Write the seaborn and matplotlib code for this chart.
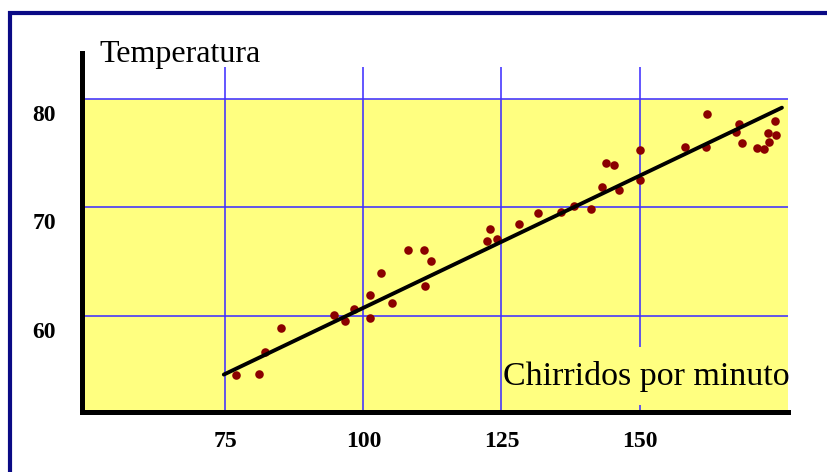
import matplotlib
matplotlib.use("Agg")
import matplotlib.pyplot as plt
import matplotlib.transforms as mtrans
from matplotlib.lines import Line2D
from matplotlib.patches import Rectangle
import seaborn as sns
import pandas as pd

# ---- data ----
chirps = [76.9, 81.1, 82.1, 85.1, 94.7, 96.6, 98.2, 101.2, 101.2, 103.1,
          105.1, 108.0, 111.0, 112.2, 111.2, 122.3, 122.9, 124.1, 128.1, 131.7,
          135.8, 138.2, 141.2, 143.2, 143.9, 145.4, 146.2, 150.1, 150.1, 158.3,
          162.3, 162.1, 167.4, 168.0, 168.5, 171.3, 172.6, 173.5, 173.3, 174.8,
          174.6]
temps = [54.6, 54.65, 56.7, 58.9, 60.1, 59.5, 60.6, 61.9, 59.8, 64.0,
         61.2, 66.1, 66.1, 65.1, 62.8, 66.9, 68.0, 67.1, 68.5, 69.45,
         69.6, 70.1, 69.9, 71.9, 74.1, 73.9, 71.6, 72.5, 75.3, 75.6,
         78.6, 75.6, 77.0, 77.7, 75.9, 75.5, 75.4, 76.0, 76.9, 76.7,
         78.0]
fit_x = [74.7, 175.8]
fit_y = [54.6, 79.2]
x_ticks = [75, 100, 125, 150]
x_tick_labels = ["75", "100", "125", "150"]
y_ticks = [60, 70, 80]
y_tick_labels = ["60", "70", "80"]
x_title = "Chirridos por minuto"
y_title = "Temperatura"

pts = pd.DataFrame({"x": chirps, "y": temps})
fit = pd.DataFrame({"x": fit_x, "y": fit_y})

# ---- style ----
sns.set_style("white")
plt.rcParams["font.family"] = ["Liberation Serif", "DejaVu Serif"]

W, H = 828, 472
fig = plt.figure(figsize=(W / 100, H / 100), dpi=100)
fig.patch.set_facecolor("white")

# axes box in pixels
ax_l, ax_r, ax_t, ax_b = 82.5, 788, 53, 412
ax = fig.add_axes([ax_l / W, 1 - ax_b / H, (ax_r - ax_l) / W, (ax_b - ax_t) / H])
ax.set_facecolor("white")

xmin, xmax = 49.1, 176.9
ymin, ymax = 51.15, 84.24
ax.set_xlim(xmin, xmax)
ax.set_ylim(ymin, ymax)

YELLOW = "#FFFF80"
GRID = "#4030FF"

# yellow plotting area up to the top gridline
ax.axhspan(ymin, max(y_ticks), color=YELLOW, zorder=0, lw=0)
# grid lines
ax.hlines(y_ticks, xmin, xmax, colors=GRID, lw=1.15, zorder=1)
ax.vlines(x_ticks, ymin, 82.95, colors=GRID, lw=1.15, zorder=1)

# yellow patch behind the axis title (covers part of the grid)
ax.add_patch(Rectangle((0.598, 0.02), 0.402, 0.161, transform=ax.transAxes,
                       facecolor=YELLOW, edgecolor="none", zorder=1.5))

# data
sns.scatterplot(data=pts, x="x", y="y", ax=ax, color="#8B0000", s=38,
                edgecolor="#8B0000", linewidth=0, zorder=3, legend=False)
sns.lineplot(data=fit, x="x", y="y", ax=ax, color="black", lw=2.8, zorder=4)

# axis titles
ax.text(125.2, 53.64, x_title, fontsize=24.5, ha="left", va="baseline",
        color="black", zorder=5)
fig.text(99 / W, 1 - 62 / H, y_title, fontsize=23, ha="left", va="baseline",
         color="black")
ax.set_xlabel("")
ax.set_ylabel("")

# ticks
ax.set_xticks(x_ticks)
ax.set_xticklabels(x_tick_labels, fontsize=17, fontweight="bold", color="black")
ax.set_yticks(y_ticks)
ax.set_yticklabels(y_tick_labels, fontsize=17, fontweight="bold", color="black")
ax.tick_params(axis="x", length=0, pad=13.5)
ax.tick_params(axis="y", length=0, pad=19)
off = mtrans.ScaledTranslation(0, -0.14, fig.dpi_scale_trans)
for lab in ax.get_yticklabels():
    lab.set_transform(lab.get_transform() + off)

# spines
for s in ["top", "right"]:
    ax.spines[s].set_visible(False)
for s in ["left", "bottom"]:
    ax.spines[s].set_color("black")
    ax.spines[s].set_linewidth(3.6)
    ax.spines[s].set_capstyle("projecting")
    ax.spines[s].set_zorder(6)

# navy frame (top and left visible)
NAVY = "#0A0A85"
fig.add_artist(Line2D([8 / W, 1], [1 - 13 / H, 1 - 13 / H], color=NAVY, lw=3,
                      solid_capstyle="butt", transform=fig.transFigure))
fig.add_artist(Line2D([10 / W, 10 / W], [0, 1 - 11 / H], color=NAVY, lw=3,
                      solid_capstyle="butt", transform=fig.transFigure))

fig.savefig("out.png", dpi=100)
